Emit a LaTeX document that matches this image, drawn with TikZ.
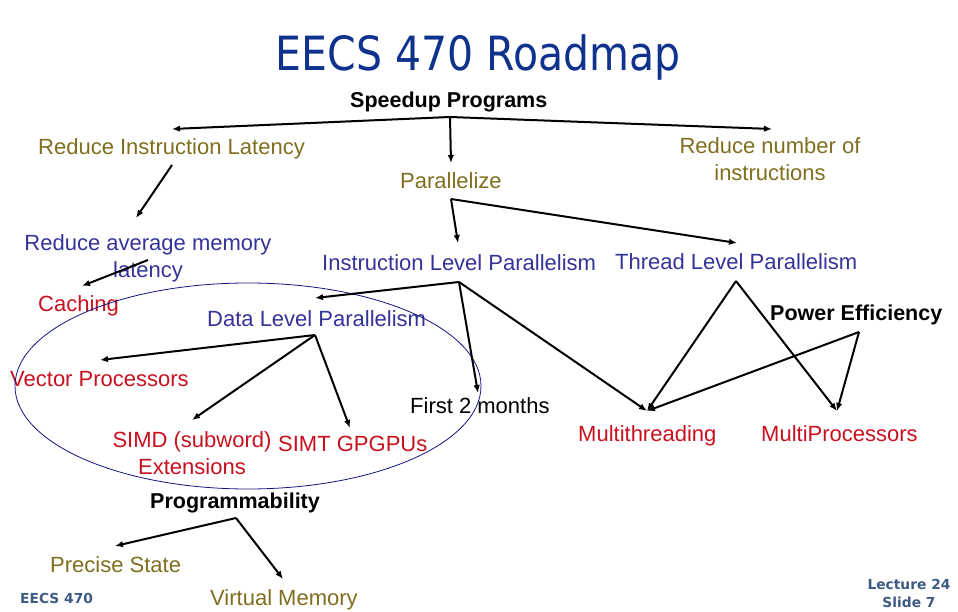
\documentclass[tikz,border=0pt]{standalone}
\usepackage{fontspec}
\setmainfont{Liberation Sans}
\newfontfamily\titlefont{DejaVu Sans}
\usetikzlibrary{arrows.meta}
\definecolor{olivetxt}{RGB}{128,110,30}
\definecolor{bluetxt}{RGB}{51,51,153}
\definecolor{redtxt}{RGB}{200,16,30}
\definecolor{titleblue}{RGB}{15,50,140}
\definecolor{footcol}{RGB}{60,90,130}
\definecolor{ellcol}{RGB}{20,20,130}
\begin{document}
\begin{tikzpicture}[x=1pt,y=-1pt,
  txt/.style={inner sep=0pt, font=\fontsize{22}{27}\selectfont, anchor=base west},
  btxt/.style={inner sep=0pt, font=\fontsize{21.5}{26}\selectfont\bfseries, anchor=base west},
  oliv/.style={txt, text=olivetxt},
  blu/.style={txt, text=bluetxt},
  rd/.style={txt, text=redtxt},
  arr/.style={draw=black, line width=2pt, -{Latex[length=8pt,width=6.5pt]}},
  foot/.style={inner sep=0pt, text=footcol, font=\titlefont\fontsize{13.8}{18}\selectfont\bfseries}]
\useasboundingbox (0,0) rectangle (958,612);
% title
\node[inner sep=0pt, anchor=base, text=titleblue, font=\titlefont\fontsize{41}{48}\selectfont] (title) at (478,71) {\scalebox{1}[1.15]{EECS 470 Roadmap}};
% text nodes
\node[btxt] (sp) at (350,108) {Speedup Programs};
\node[oliv] (ril) at (38,155) {Reduce Instruction Latency};
\node[oliv] (par) at (400,189) {Parallelize};
\node[oliv, anchor=base, align=center] (rni) at (770,181) {Reduce number of\\instructions};
\node[blu, anchor=base, align=center] (raml) at (148,277) {Reduce average memory\\latency};
\node[rd] (cach) at (38,311) {Caching};
\node[blu] (ilp) at (322,271) {Instruction Level Parallelism};
\node[blu] (tlp) at (615,270) {Thread Level Parallelism};
\node[blu] (dlp) at (207,326) {Data Level Parallelism};
\node[btxt] (pe) at (770,320) {Power Efficiency};
\node[rd] (vec) at (10,386) {Vector Processors};
\node[txt] (f2m) at (410,413) {First 2 months};
\node[rd, anchor=base, align=center] (simd) at (192,474) {SIMD (subword)\\Extensions};
\node[rd] (simt) at (278,451) {SIMT GPGPUs};
\node[rd] (mt) at (578,441) {Multithreading};
\node[rd] (mp) at (761,441) {MultiProcessors};
\node[btxt] (prog) at (150,508) {Programmability};
\node[oliv] (ps) at (50,572) {Precise State};
\node[oliv] (vm) at (210,605) {Virtual Memory};
\node[foot, anchor=base west] (eecs) at (20,603) {EECS 470};
\node[foot, anchor=base, align=center] (lect) at (909,607) {Lecture 24\\Slide 7};
% ellipse
\draw[ellcol, line width=0.8pt] (248,386) ellipse [x radius=233, y radius=103];
% connector points
\coordinate (sp-o) at (450,117);
\coordinate (ril-t) at (172,129);
\coordinate (par-t) at (451,163);
\coordinate (rni-t) at (772,129);
\coordinate (ril-o) at (172,165);
\coordinate (raml-t) at (136,218);
\coordinate (raml-o) at (148,260);
\coordinate (cach-t) at (82,286);
\coordinate (par-o) at (451,199);
\coordinate (ilp-t) at (458,243);
\coordinate (tlp-t) at (737,243);
\coordinate (ilp-o) at (459,282);
\coordinate (dlp-t) at (315,298);
\coordinate (f2m-t) at (478,393);
\coordinate (mt-t) at (647,411);
\coordinate (dlp-o) at (315,335);
\coordinate (vec-t) at (100,360);
\coordinate (simd-t) at (192,420);
\coordinate (simt-t) at (350,428);
\coordinate (tlp-o) at (736,281);
\coordinate (mp-t) at (837,411);
\coordinate (pe-o) at (859,332);
\coordinate (prog-o) at (236,518);
\coordinate (ps-t) at (115,546);
\coordinate (vm-t) at (283,579);
% connectors
\draw[arr] (sp-o) -- (ril-t);
\draw[arr] (sp-o) -- (par-t);
\draw[arr] (sp-o) -- (rni-t);
\draw[arr] (ril-o) -- (raml-t);
\draw[arr] (raml-o) -- (cach-t);
\draw[arr] (par-o) -- (ilp-t);
\draw[arr] (par-o) -- (tlp-t);
\draw[arr] (ilp-o) -- (dlp-t);
\draw[arr] (ilp-o) -- (f2m-t);
\draw[arr] (ilp-o) -- (mt-t);
\draw[arr] (dlp-o) -- (vec-t);
\draw[arr] (dlp-o) -- (simd-t);
\draw[arr] (dlp-o) -- (simt-t);
\draw[arr] (tlp-o) -- (mt-t);
\draw[arr] (tlp-o) -- (mp-t);
\draw[arr] (pe-o) -- (mt-t);
\draw[arr] (pe-o) -- (mp-t);
\draw[arr] (prog-o) -- (ps-t);
\draw[arr] (prog-o) -- (vm-t);
\end{tikzpicture}
\end{document}
